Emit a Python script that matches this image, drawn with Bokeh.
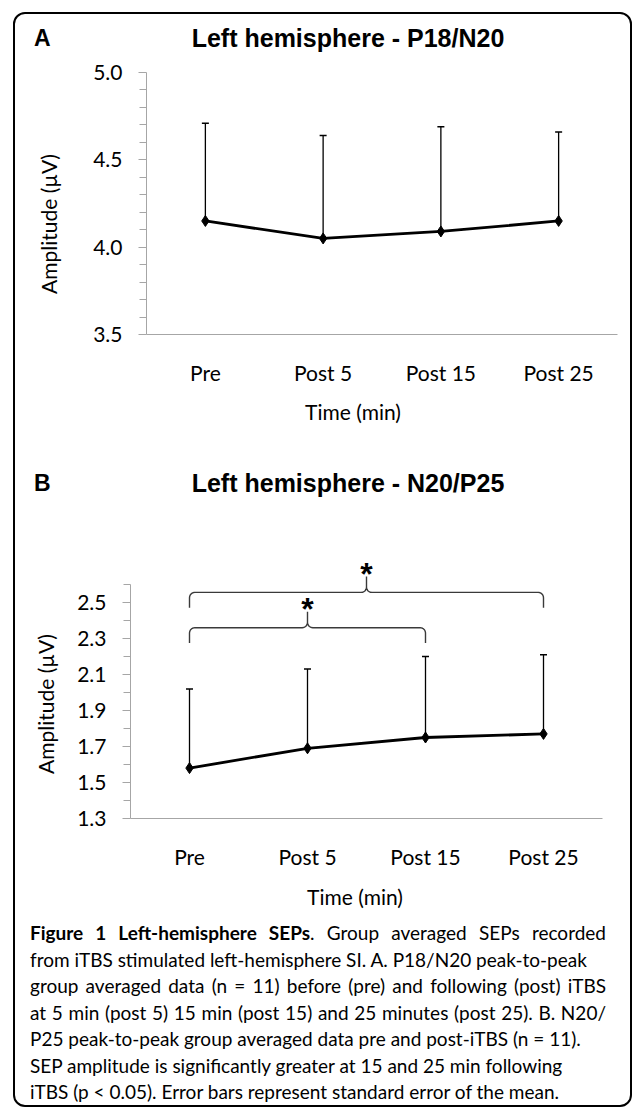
import numpy as np
from bokeh.plotting import figure
from bokeh.models import (ColumnDataSource, Whisker, TeeHead, FixedTicker,
                          Range1d, Div, PrintfTickFormatter)
from bokeh.layouts import column, row
from bokeh.embed import file_html
from bokeh.resources import INLINE
from bokeh.core.properties import value

# ---------------- data ----------------
categories = ["Pre", "Post 5", "Post 15", "Post 25"]
a_mean = [4.15, 4.05, 4.09, 4.15]
a_upper = [4.71, 4.64, 4.69, 4.66]
b_mean = [1.58, 1.69, 1.75, 1.77]
b_upper = [2.02, 2.13, 2.20, 2.21]
a_ticks = [3.5, 4.0, 4.5, 5.0]
b_ticks = [1.3, 1.5, 1.7, 1.9, 2.1, 2.3, 2.5]
sig_pairs = [("Pre", "Post 15"), ("Pre", "Post 25")]
sig_marks = ["*", "*"]
title_a = "Left hemisphere - P18/N20"
title_b = "Left hemisphere - N20/P25"
y_label = "Amplitude (\u00b5V)"
x_label = "Time (min)"

# ---------------- style ----------------
AX = "#a6a6a6"
FONT = "Lato"
FS = "21px"
TFONT = "Liberation Sans"
CW = 615      # content width inside the border
YLW = 50      # width of the y-label strip
W = CW - YLW


def minor_between(start, stop, step, majors):
    vals = np.round(np.arange(start, stop + step / 2, step), 2)
    return [float(v) for v in vals if not np.any(np.isclose(v, majors))]


def base_fig(height, y0, y1, fl, fr, ft, fb):
    p = figure(width=W, height=height, x_range=Range1d(-0.5, 3.5),
               y_range=Range1d(y0, y1), output_backend="svg",
               toolbar_location=None, min_border_left=fl, min_border_right=fr,
               min_border_top=ft, min_border_bottom=fb)
    p.outline_line_color = None
    p.grid.visible = False
    p.background_fill_color = "white"
    p.border_fill_color = "white"
    xa = p.xaxis[0]
    xa.ticker = FixedTicker(ticks=list(range(len(categories))))
    xa.major_label_overrides = {i: c for i, c in enumerate(categories)}
    xa.major_tick_out = 0
    xa.major_tick_in = 0
    xa.minor_tick_out = 0
    xa.minor_tick_in = 0
    xa.axis_line_color = AX
    xa.major_label_text_font = FONT
    xa.major_label_text_font_size = FS
    xa.major_label_text_color = "black"
    xa.major_label_standoff = 25
    ya = p.yaxis[0]
    ya.formatter = PrintfTickFormatter(format="%.1f")
    ya.axis_line_color = AX
    ya.major_tick_line_color = AX
    ya.minor_tick_line_color = AX
    ya.major_tick_out = 8
    ya.major_tick_in = 0
    ya.minor_tick_out = 7
    ya.minor_tick_in = 0
    ya.major_label_text_font = FONT
    ya.major_label_text_font_size = FS
    ya.major_label_text_color = "black"
    ya.major_label_standoff = 16
    return p


def add_series(p, mean, upper):
    x = list(range(len(categories)))
    src = ColumnDataSource(dict(x=x, mean=mean, upper=upper))
    wh = Whisker(base="x", lower="mean", upper="upper", source=src,
                 line_color="black", line_width=1.3,
                 upper_head=TeeHead(size=7, line_color="black", line_width=1.5),
                 lower_head=None, level="underlay")
    p.add_layout(wh)
    p.line("x", "mean", source=src, line_color="black", line_width=2.8)
    p.scatter("x", "mean", source=src, marker="diamond", size=11,
              fill_color="black", line_color="black")


def header(letter, title, h, top):
    html = (f'<div style="position:relative;width:{CW}px;height:{h}px;">'
            f'<div style="position:absolute;left:19px;top:{top + 1}px;font-family:\'{TFONT}\';'
            f'font-weight:bold;font-size:23px;line-height:23px;color:#000;">{letter}</div>'
            f'<div style="position:absolute;left:333px;top:{top}px;transform:translateX(-50%);'
            f'white-space:nowrap;font-family:\'{TFONT}\';font-weight:bold;font-size:25px;'
            f'line-height:25px;color:#000;">{title}</div></div>')
    return Div(text=html, width=CW, height=h, margin=0)


def ylab(h, cx, cy):
    html = (f'<div style="position:relative;width:{YLW}px;height:{h}px;">'
            f'<div style="position:absolute;left:{cx}px;top:{cy}px;'
            f'transform:translate(-50%,-50%) rotate(-90deg);white-space:nowrap;'
            f'font-family:{FONT};font-size:{FS};line-height:21px;color:#000;">{y_label}</div></div>')
    return Div(text=html, width=YLW, height=h, margin=0)


def xlab(h, cx, top):
    html = (f'<div style="position:relative;width:{CW}px;height:{h}px;">'
            f'<div style="position:absolute;left:{cx}px;top:{top}px;transform:translateX(-50%);'
            f'white-space:nowrap;font-family:{FONT};font-size:{FS};line-height:21px;'
            f'color:#000;">{x_label}</div></div>')
    return Div(text=html, width=CW, height=h, margin=0)


# ---------------- panel A ----------------
HA = 332
pA = base_fig(HA, 3.5, 5.0, 81, 13, 12, 58)
pA.yaxis[0].ticker = FixedTicker(ticks=a_ticks, minor_ticks=minor_between(3.5, 5.0, 0.1, a_ticks))
add_series(pA, a_mean, a_upper)

# ---------------- panel B ----------------
HB = 373
pB = base_fig(HB, 1.3, 2.8, 65, 28, 43, 60)
pB.yaxis[0].ticker = FixedTicker(ticks=b_ticks, minor_ticks=minor_between(1.3, 2.6, 0.1, b_ticks))
pB.yaxis[0].bounds = (1.3, 2.6)
add_series(pB, b_mean, b_upper)

# significance brackets
bracket_levels = [2.36, 2.556]
DROP, CUSP, RX, RY = 0.085, 0.088, 0.045, 0.03


def bracket_path(x0, x1, yt):
    xm = (x0 + x1) / 2.0
    t = np.linspace(0, np.pi / 2, 8)
    left = [(x0, yt - DROP)]
    left += list(zip(x0 + RX - RX * np.cos(t), yt - RY + RY * np.sin(t)))
    left += list(zip(xm - RX + RX * np.sin(t), yt + RY - RY * np.cos(t)))
    left += [(xm, yt + CUSP)]
    right = [(2 * xm - x, y) for (x, y) in reversed(left)]
    path = left + right[1:]
    return [float(a) for a, _ in path], [float(b) for _, b in path]


bx, by, sx, sy = [], [], [], []
for (c0, c1), lev in zip(sig_pairs, bracket_levels):
    i0, i1 = categories.index(c0), categories.index(c1)
    xs, ys = bracket_path(i0, i1, lev)
    bx.append(xs)
    by.append(ys)
    sx.append((i0 + i1) / 2.0)
    sy.append(lev + CUSP)
pB.multi_line(bx, by, line_color="#3a3a3a", line_width=1.4)
pB.text(sx, sy, text=sig_marks, text_font=value(TFONT), text_font_size="32px",
        text_font_style="bold", text_align="center", text_baseline="alphabetic",
        y_offset=-3, text_color="black")

# ---------------- caption ----------------
lines = [
    ("<b>Figure 1 Left-hemisphere SEPs</b>. Group averaged SEPs recorded", True),
    ("from iTBS stimulated left-hemisphere SI. A. P18/N20 peak-to-peak", False),
    ("group averaged data (n = 11) before (pre) and following (post) iTBS", True),
    ("at 5 min (post 5) 15 min (post 15) and 25 minutes (post 25). B. N20/", True),
    ("P25 peak-to-peak group averaged data pre and post-iTBS (n = 11).", False),
    ("SEP amplitude is significantly greater at 15 and 25 min following", False),
    ("iTBS (p &lt; 0.05). Error bars represent standard error of the mean.", False),
]
html = ('<div style="font-family:Lato;font-size:19px;line-height:26.5px;color:#000;'
        'padding:2px 0 0 15px;width:591px;">')
for txt, just in lines:
    if just:
        html += ('<div style="text-align:justify;text-align-last:justify;white-space:nowrap;">'
                 + txt + '</div>')
    else:
        html += '<div style="text-align:left;white-space:nowrap;">' + txt + '</div>'
html += '</div>'
cap = Div(text=html, width=CW, height=187, margin=0)

layout = column(
    header("A", title_a, 46, 12.2),
    row(ylab(HA, 33, 164), pA, spacing=0),
    xlab(48, 338, 9),
    header("B", title_b, 65, 30.9),
    row(ylab(HB, 30, 199), pB, spacing=0),
    xlab(40, 340, 8),
    cap,
    spacing=0, margin=(12, 0, 0, 13),
    styles={"border": "2px solid #000", "border-radius": "12px",
            "background-color": "white"})

open("out.html", "w").write(file_html(layout, INLINE))
